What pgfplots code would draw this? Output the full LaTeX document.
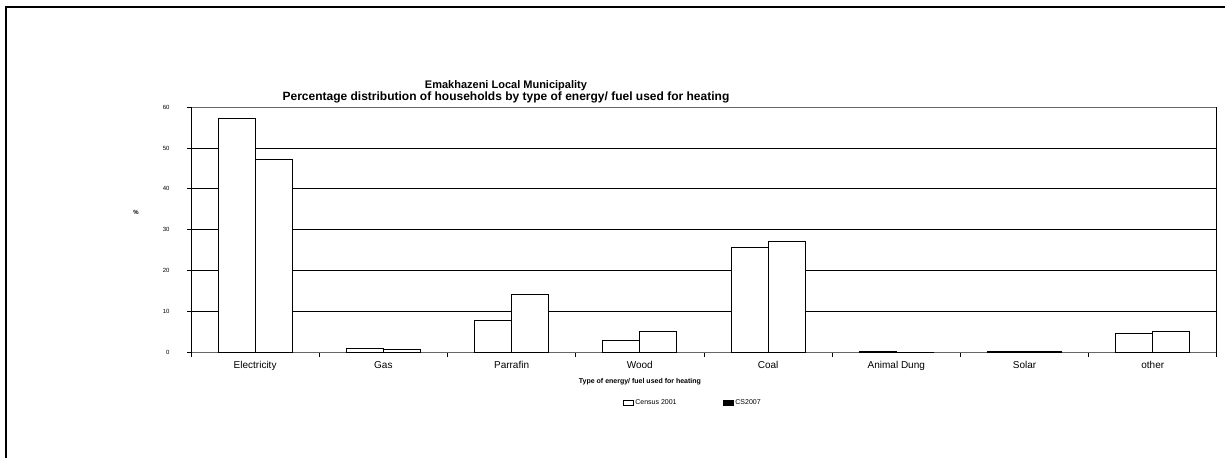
\documentclass[border=0pt]{standalone}
\usepackage{fontspec}
\setmainfont{Liberation Sans}
\usepackage{pgfplots}
\pgfplotsset{compat=1.18}

% Share of households (%) by energy source used for heating
\pgfplotstableread{
idx census cs
0 57.1 47.1
1 1.1  0.8
2 7.8  14.3
3 3.1  5.1
4 25.8 27.1
5 0.2  0.1
6 0.2  0.3
7 4.7  5.2
}\heatdata

\begin{document}
\begin{tikzpicture}
\useasboundingbox (0pt,0pt) rectangle (1225pt,458pt);
% outer frame
\draw[line width=2.4pt] (6.2pt,0pt) -- (6.2pt,451pt) -- (1225pt,451pt);
\begin{axis}[
  at={(191pt,105.3pt)}, anchor=south west,
  scale only axis, width=1026pt, height=245.7pt,
  xmin=-0.5, xmax=7.5, ymin=0, ymax=60,
  ytick={0,10,...,60},
  xtick={0,...,7},
  xticklabels={Electricity,Gas,Parrafin,Wood,Coal,Animal Dung,Solar,other},
  minor xtick={-0.5,0.5,...,7.5},
  major x tick style={draw=none},
  minor tick length=4pt,
  major tick length=4pt,
  tick align=outside,
  xtick pos=bottom, ytick pos=left,
  tick style={black, line width=0.8pt},
  /pgf/number format/assume math mode=true,
  yticklabel style={font=\fontsize{6}{7}\selectfont, xshift=-14pt},
  xticklabel style={font=\fontsize{10}{12}\selectfont, yshift=-1pt},
  ymajorgrids,
  grid style={black, line width=0.8pt},
  axis line style={black!60, line width=0.8pt},
  separate axis lines,
  y axis line style={black},
  title={{\fontsize{11}{14}\selectfont Emakhazeni Local Municipality}\\
         {\fontsize{12}{14}\selectfont Percentage distribution of households by type of energy/ fuel used for heating}},
  title style={align=center, font=\bfseries,
    at={(axis description cs:0.307,1)}, anchor=south, yshift=-6pt},
  xlabel={Type of energy/ fuel used for heating},
  xlabel style={font=\bfseries\fontsize{7}{8}\selectfont,
    at={(axis description cs:0.4376,-0.119)}, anchor=center},
  ylabel={\%},
  ylabel style={rotate=-90, font=\bfseries\fontsize{6}{7}\selectfont,
    at={(axis description cs:-0.0536,0.569)}, anchor=center},
  ybar, bar width=37pt,
  legend style={at={(axis description cs:0.489,-0.205)}, anchor=center,
    draw=none, fill=none, font=\fontsize{7}{8}\selectfont,
    /tikz/every even column/.append style={column sep=44pt}},
  legend columns=2,
  legend image code/.code={\draw[#1, line width=0.8pt] (0pt,-2.5pt) rectangle (10pt,2.5pt);},
]
\addplot[fill=white, draw=black, line width=0.9pt, bar shift=-18.5pt, forget plot]
  table[x=idx, y=census] {\heatdata};
\addplot[fill=white, draw=black, line width=0.9pt, bar shift=18.5pt, forget plot]
  table[x=idx, y=cs] {\heatdata};
\addlegendimage{fill=white, draw=black}
\addlegendentry{Census 2001}
\addlegendimage{fill=black, draw=black}
\addlegendentry{CS2007}
\end{axis}
\end{tikzpicture}
\end{document}
